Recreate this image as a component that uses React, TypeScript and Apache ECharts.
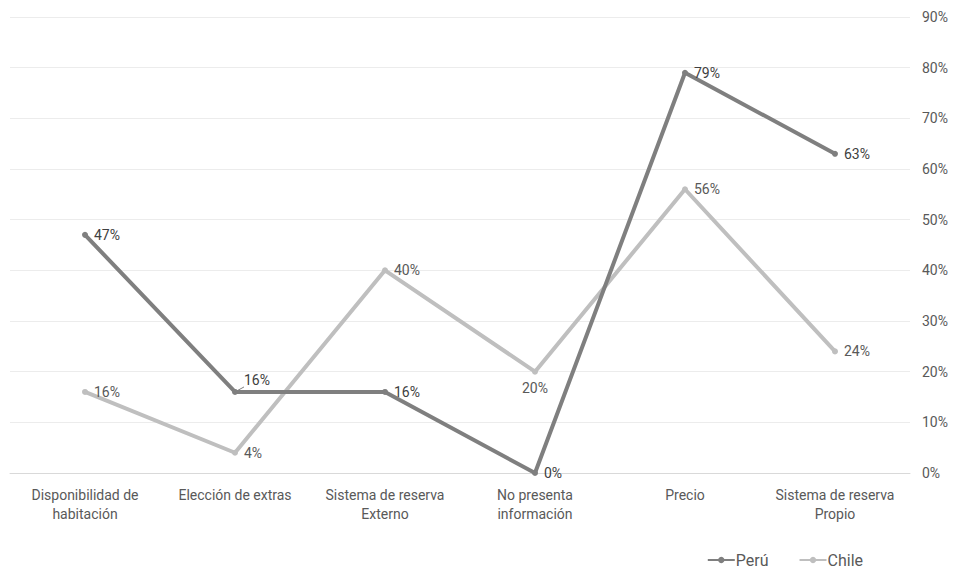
import React, { useEffect, useRef } from "react";
import * as echarts from "echarts";

const categories = [
  "Disponibilidad de\nhabitación",
  "Elección de extras",
  "Sistema de reserva\nExterno",
  "No presenta\ninformación",
  "Precio",
  "Sistema de reserva\nPropio",
];
const peru = [47, 16, 16, 0, 79, 63];
const chile = [16, 4, 40, 20, 56, 24];
const chileLabelPos = ["right", "right", "right", "bottom", "right", "right"];

const FONT = "Roboto, 'Noto Sans', sans-serif";

export default function App() {
  const ref = useRef<HTMLDivElement>(null);

  useEffect(() => {
    if (!ref.current) return;
    const chart = echarts.init(ref.current, undefined, { renderer: "svg" });
    chart.setOption({
      animation: false,
      textStyle: { fontFamily: FONT },
      grid: { left: 10, right: 44, top: 17, bottom: 97 },
      legend: {
        data: ["Perú", "Chile"],
        right: 86,
        bottom: -3,
        itemWidth: 27,
        itemHeight: 8,
        itemGap: 30,
        textStyle: { color: "#595959", fontSize: 16, fontFamily: FONT, padding: [0, 0, 0, -4] },
      },
      xAxis: {
        type: "category",
        data: categories,
        boundaryGap: true,
        axisLine: { lineStyle: { color: "#d9d9d9" } },
        axisTick: { show: false },
        axisLabel: {
          color: "#595959",
          fontSize: 14,
          lineHeight: 19,
          margin: 12,
          interval: 0,
          fontFamily: FONT,
        },
      },
      yAxis: {
        type: "value",
        position: "right",
        min: 0,
        max: 90,
        interval: 10,
        axisLine: { show: false },
        axisTick: { show: false },
        splitLine: { lineStyle: { color: "#ececec" } },
        axisLabel: {
          color: "#595959",
          fontSize: 14,
          margin: 12,
          formatter: (v: number) => `${v}%`,
          fontFamily: FONT,
        },
      },
      series: [
        {
          name: "Perú",
          type: "line",
          data: peru.map((v, i) =>
            i === 1
              ? {
                  value: v,
                  label: { position: "right", offset: [0, -12] },
                  labelLine: { show: true, lineStyle: { color: "#7f7f7f", width: 1 } },
                }
              : v
          ),
          symbol: "circle",
          symbolSize: 6,
          itemStyle: { color: "#7f7f7f" },
          lineStyle: { color: "#7f7f7f", width: 4 },
          z: 3,
          label: {
            show: true,
            position: "right",
            distance: 6,
            color: "#404040",
            fontSize: 14,
            fontFamily: FONT,
            formatter: (p: any) => `${p.value}%`,
          },
        },
        {
          name: "Chile",
          type: "line",
          data: chile.map((v, i) => ({
            value: v,
            label: { position: chileLabelPos[i] },
          })),
          symbol: "circle",
          symbolSize: 6,
          itemStyle: { color: "#bfbfbf" },
          lineStyle: { color: "#bfbfbf", width: 4 },
          z: 2,
          label: {
            show: true,
            distance: 6,
            color: "#595959",
            fontSize: 14,
            fontFamily: FONT,
            formatter: (p: any) => `${p.value}%`,
          },
        },
      ],
    });
    return () => chart.dispose();
  }, []);

  return (
    <div
      ref={ref}
      style={{ position: "absolute", left: 0, top: 0, width: 954, height: 570, background: "#fff" }}
    />
  );
}
